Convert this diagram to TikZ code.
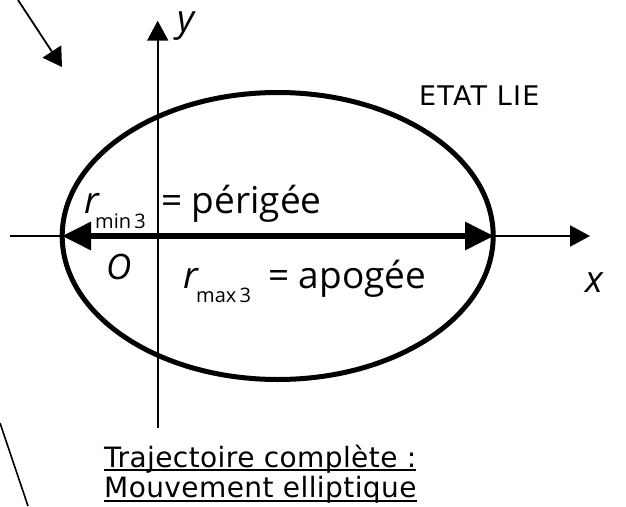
\documentclass[tikz,border=0pt]{standalone}
\usepackage{fontspec}
\setmainfont{Open Sans}
\newfontfamily\dejavu[LetterSpace=1.5]{DejaVu Sans}
\newfontfamily\dejavuwide[LetterSpace=4.5]{DejaVu Sans}
\usetikzlibrary{arrows.meta}
\begin{document}
\begin{tikzpicture}[x=1pt,y=-1pt,
  thin line/.style={line width=2pt},
  thick line/.style={line width=5pt},
  axistip/.style={-{Triangle[length=20pt,width=21pt]}},
  lbl/.style={inner sep=0pt,anchor=base west},
  big/.style={font=\fontsize{37}{40}\selectfont},
  sub/.style={font=\fontsize{20}{22}\selectfont},
  bottomtxt/.style={font=\dejavu\fontsize{28}{30}\selectfont},
  uline/.style={line width=2pt}]
\useasboundingbox (0,0) rectangle (626,506);
% axes
\coordinate (ybot) at (157.7,428);
\coordinate (ytop) at (157.7,20.7);
\coordinate (xl) at (10,236);
\coordinate (xr) at (590,236);
\draw[thin line,axistip] (ybot) -- (ytop);
\draw[thin line,axistip] (xl) -- (xr);
% ellipse
\coordinate (ctr) at (277.7,236);
\draw[thick line] (ctr) ellipse [x radius=215.5, y radius=143.5];
% major axis arrow
\coordinate (peri) at (62,236);
\coordinate (apo) at (494,236);
\draw[line width=6pt,{Triangle[length=29pt,width=27pt]}-{Triangle[length=29pt,width=27pt]}] (peri) -- (apo);
% side lines
\coordinate (a1) at (18,0);
\coordinate (a2) at (62,67);
\draw[line width=1.8pt,-{Triangle[length=18.5pt,width=22pt]}] (a1) -- (a2);
\coordinate (b1) at (0,423);
\coordinate (b2) at (28,506);
\draw[line width=1.6pt] (b1) -- (b2);
% labels
\node[lbl,big] (ylab) at (177,31) {\itshape y};
\node[lbl,big] (xlab) at (585,292) {\itshape x};
\node[lbl,font=\fontsize{35}{38}\selectfont] (olab) at (106,279) {\itshape O};
\node[lbl,font=\dejavuwide\fontsize{27}{30}\selectfont] (etat) at (419,105) {ETAT LIE};
\node[lbl,big] (rmin) at (84,213) {\itshape r};
\node[lbl,sub] (rminsub) at (95,228) {min\,3};
\node[lbl,big] (perig) at (161,213) {= périgée};
\node[lbl,big] (rmax) at (183,288) {\itshape r};
\node[lbl,sub] (rmaxsub) at (196,302) {max\,3};
\node[lbl,big] (apog) at (268,288) {= apogée};
\node[lbl,bottomtxt] (traj1) at (104,467) {Trajectoire complète :};
\node[lbl,bottomtxt] (traj2) at (104,497) {Mouvement elliptique};
\draw[uline] ([yshift=-3pt]traj1.base west) -- ([yshift=-3pt]traj1.base east);
\draw[uline] ([yshift=-4pt]traj2.base west) -- ([yshift=-4pt]traj2.base east);
\end{tikzpicture}
\end{document}
